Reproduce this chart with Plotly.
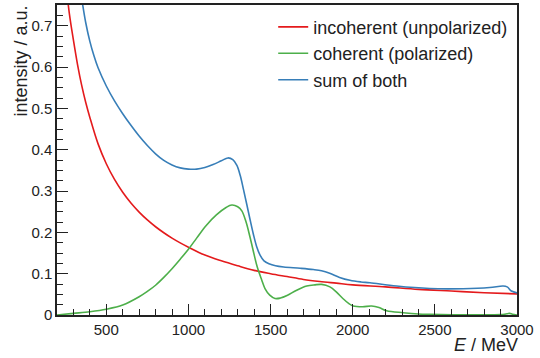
import plotly.graph_objects as go

# Incoherent (unpolarized) bremsstrahlung intensity
energy_incoherent = [250, 275, 300, 325, 350, 375, 400, 450, 500, 550, 600, 650,
                     700, 750, 800, 850, 900, 950, 1000, 1100, 1200, 1300, 1400,
                     1500, 1600, 1700, 1800, 1900, 2000, 2200, 2400, 2600, 2800,
                     3000]
intensity_incoherent = [0.817, 0.730, 0.665, 0.606, 0.556, 0.514, 0.478, 0.414,
                        0.366, 0.328, 0.297, 0.271, 0.249, 0.230, 0.2135, 0.199,
                        0.186, 0.1745, 0.164, 0.145, 0.131, 0.119, 0.108, 0.100,
                        0.093, 0.086, 0.081, 0.077, 0.073, 0.068, 0.062, 0.058,
                        0.054, 0.051]

# Coherent (polarized) contribution
energy_coherent = [200, 300, 400, 500, 600, 700, 750, 800, 850, 900, 950, 1000,
                   1050, 1107, 1170, 1229, 1264, 1300, 1325, 1350, 1375, 1400,
                   1419, 1445, 1466, 1495, 1527, 1560, 1600, 1659, 1720, 1770,
                   1811, 1861, 1900, 1940, 1975, 2003, 2060, 2115, 2160, 2206,
                   2307, 2400, 2469, 2700, 2900, 2940, 2956, 2972, 3000]
intensity_coherent = [0.0, 0.004, 0.008, 0.014, 0.024, 0.044, 0.057, 0.072,
                      0.091, 0.112, 0.135, 0.159, 0.186, 0.216, 0.242, 0.260,
                      0.266, 0.262, 0.252, 0.226, 0.188, 0.146, 0.116, 0.086,
                      0.064, 0.048, 0.040, 0.041, 0.047, 0.060, 0.070, 0.073,
                      0.074, 0.068, 0.056, 0.040, 0.028, 0.022, 0.020, 0.0216,
                      0.018, 0.0104, 0.0056, 0.0025, 0.0016, 0.0005, 0.001,
                      0.003, 0.004, 0.002, 0.0]

# Measured total (sum of both)
energy_sum = [335, 350, 375, 400, 425, 450, 500, 550, 600, 650, 700, 750, 800,
              850, 900, 950, 1000, 1050, 1100, 1150, 1200, 1240, 1270, 1295,
              1315, 1335, 1355, 1375, 1395, 1415, 1436, 1460, 1490, 1530, 1580,
              1680, 1760, 1810, 1860, 1920, 1983, 2050, 2105, 2267, 2469, 2672,
              2834, 2915, 2940, 2966, 3000]
intensity_sum = [0.810, 0.767, 0.707, 0.662, 0.627, 0.598, 0.554, 0.518, 0.487,
                 0.459, 0.433, 0.410, 0.390, 0.374, 0.363, 0.356, 0.353, 0.353,
                 0.357, 0.364, 0.373, 0.380, 0.376, 0.362, 0.338, 0.304, 0.268,
                 0.231, 0.196, 0.166, 0.145, 0.131, 0.124, 0.119, 0.116, 0.113,
                 0.110, 0.107, 0.101, 0.091, 0.084, 0.080, 0.078, 0.070, 0.064,
                 0.0636, 0.0664, 0.070, 0.068, 0.058, 0.0536]

x_ticks = [500, 1000, 1500, 2000, 2500, 3000]
y_ticks = [0, 0.1, 0.2, 0.3, 0.4, 0.5, 0.6, 0.7]
y_tick_labels = ["0", "0.1", "0.2", "0.3", "0.4", "0.5", "0.6", "0.7"]

RED = "#e41a1c"
GREEN = "#4daf4a"
BLUE = "#377eb8"
AXIS = "#222222"
FONT = "Liberation Sans, Arial, sans-serif"

fig = go.Figure()
series = [
    ("incoherent (unpolarized)", energy_incoherent, intensity_incoherent, RED),
    ("coherent (polarized)", energy_coherent, intensity_coherent, GREEN),
    ("sum of both", energy_sum, intensity_sum, BLUE),
]
for name, xs, ys, color in series:
    fig.add_trace(go.Scatter(
        x=xs, y=ys, name=name, mode="lines",
        line=dict(color=color, width=1.6, shape="spline", smoothing=1.0),
    ))

axis_common = dict(
    showgrid=False, zeroline=False,
    showline=True, linecolor=AXIS, linewidth=1.5, mirror=True,
    ticks="inside", tickcolor=AXIS, tickwidth=1.2,
    tickfont=dict(family=FONT, size=15, color="#222222"),
)

fig.update_xaxes(
    range=[200, 3000], tickvals=x_ticks, ticklen=11,
    minor=dict(dtick=100, tick0=0, ticks="inside", ticklen=6,
               tickcolor=AXIS, tickwidth=1.2),
    **axis_common,
)
fig.update_yaxes(
    range=[0, 0.75], tickvals=y_ticks, ticktext=y_tick_labels, ticklen=11,
    minor=dict(dtick=0.025, tick0=0, ticks="inside", ticklen=6,
               tickcolor=AXIS, tickwidth=1.2),
    **axis_common,
)

fig.add_annotation(
    text="intensity / a.u.", xref="paper", yref="paper",
    x=0, y=1, xanchor="center", yanchor="top", xshift=-37, yshift=1,
    textangle=-90, showarrow=False,
    font=dict(family=FONT, size=18, color="#222222"),
)
fig.add_annotation(
    text="<i>E</i> / MeV", xref="paper", yref="paper",
    x=1, y=0, xanchor="right", yanchor="middle", xshift=3, yshift=-30,
    showarrow=False,
    font=dict(family=FONT, size=18, color="#222222"),
)

fig.update_layout(
    width=540, height=358,
    margin=dict(l=57, r=23, t=3, b=43),
    paper_bgcolor="white", plot_bgcolor="white",
    showlegend=True,
    legend=dict(
        x=0.47, y=0.988, xanchor="left", yanchor="top",
        bgcolor="rgba(0,0,0,0)", borderwidth=0,
        font=dict(family=FONT, size=18, color="#222222"),
        traceorder="normal",
    ),
)

fig.write_html("out.html")
